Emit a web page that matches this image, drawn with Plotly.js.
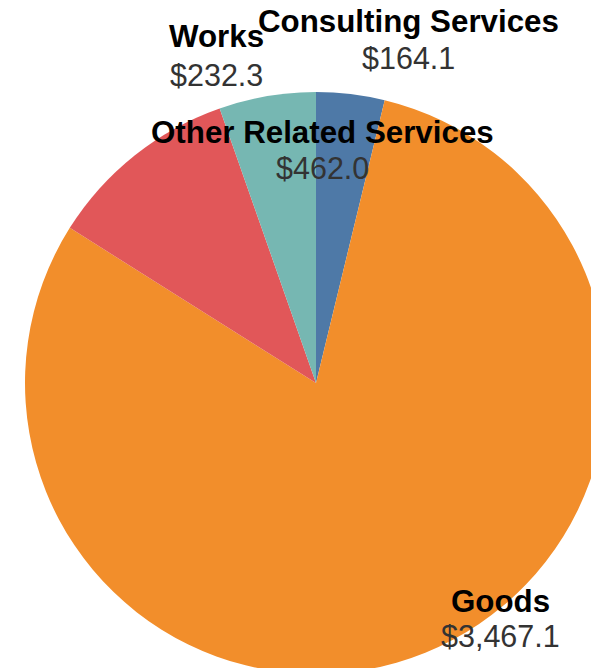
<!DOCTYPE html>
<html>
<head>
<meta charset="utf-8">
<script src="https://cdn.plot.ly/plotly-3.0.1.min.js"></script>
<style>
html, body { margin: 0; padding: 0; overflow: hidden; background: #fff; }
#chart { width: 620px; height: 700px; }
</style>
</head>
<body>
<div id="chart"></div>
<script>
// Data
var categories = ["Consulting Services", "Goods", "Other Related Services", "Works"];
var values = [164.1, 3467.1, 462.0, 232.3];
var colors = ["#4e79a7", "#f28e2b", "#e15759", "#76b7b2"];

// label anchor positions in page pixels (centre of name line / value line)
var labelPx = [
  {x: 408, yName: 21, yVal: 58},
  {x: 500, yName: 601, yVal: 636},
  {x: 322, yName: 132, yVal: 168},
  {x: 216, yName: 37, yVal: 75}
];

var W = 620, H = 700, ML = 25, MR = 13, MT = 92, MB = 26;
var PW = W - ML - MR, PH = H - MT - MB;
function px2x(px) { return (px - ML) / PW; }
function px2y(py) { return (H - MB - py) / PH; }
function fmt(v) {
  return "$" + v.toLocaleString("en-US", {minimumFractionDigits: 1, maximumFractionDigits: 1});
}

var annotations = [];
categories.forEach(function (c, i) {
  var p = labelPx[i];
  annotations.push({
    text: "<b>" + c + "</b>", xref: "paper", yref: "paper",
    x: px2x(p.x), y: px2y(p.yName), xanchor: "center", yanchor: "middle",
    showarrow: false, font: {family: "Liberation Sans, Arial, sans-serif", size: 31.3, color: "#000"}
  });
  annotations.push({
    text: fmt(values[i]), xref: "paper", yref: "paper",
    x: px2x(p.x), y: px2y(p.yVal), xanchor: "center", yanchor: "middle",
    showarrow: false, font: {family: "Liberation Sans, Arial, sans-serif", size: 30.5, color: "#333"}
  });
});

var trace = {
  type: "pie",
  labels: categories,
  values: values,
  sort: false,
  direction: "clockwise",
  rotation: 0,
  marker: {colors: colors, line: {width: 0}},
  textinfo: "none",
  textposition: "none",
  hoverinfo: "none",
  domain: {x: [0, 1], y: [0, 1]}
};

var layout = {
  width: W, height: H,
  margin: {l: ML, r: MR, t: MT, b: MB, pad: 0},
  showlegend: false,
  paper_bgcolor: "#fff",
  plot_bgcolor: "#fff",
  annotations: annotations,
  hovermode: false
};

Plotly.newPlot("chart", [trace], layout, {displayModeBar: false, staticPlot: true});
</script>
</body>
</html>
